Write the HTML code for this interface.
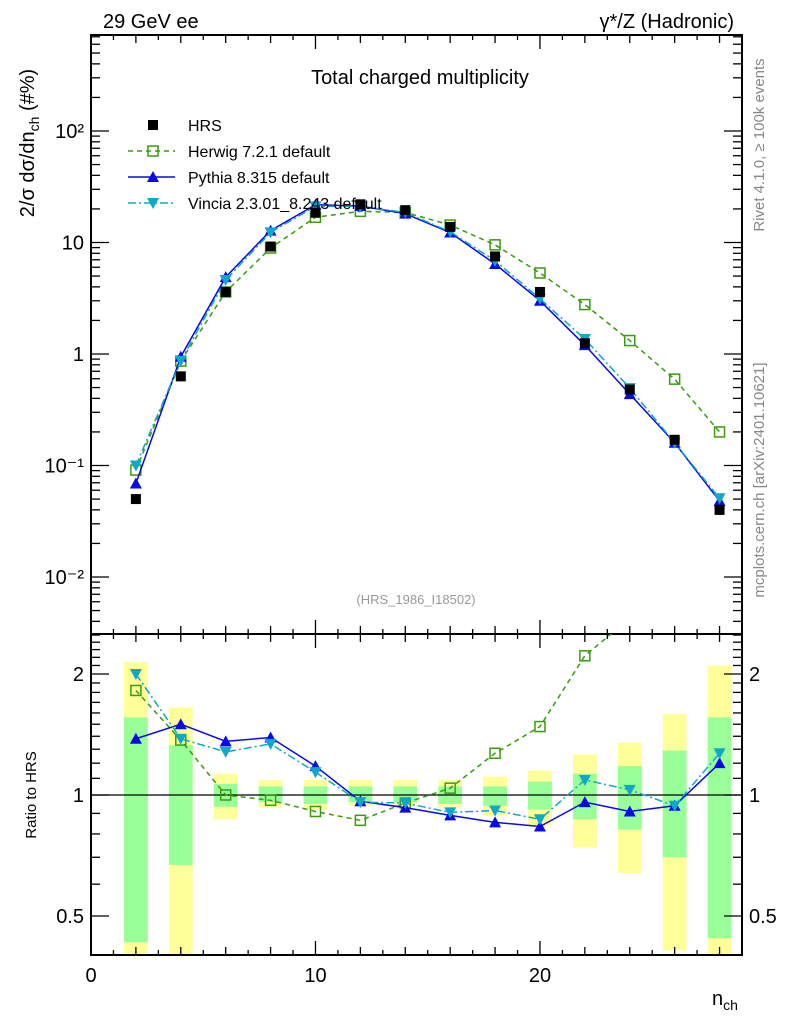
<!DOCTYPE html>
<html><head><meta charset="utf-8">
<style>
html,body{margin:0;padding:0;background:#fff;}
svg{display:block;font-family:"Liberation Sans",sans-serif;}
</style></head>
<body>
<svg id="chart" width="786" height="1024" viewBox="0 0 786 1024" xmlns="http://www.w3.org/2000/svg">
<defs>
<clipPath id="clipMain"><rect x="91" y="35" width="651" height="599"/></clipPath>
<clipPath id="clipRatio"><rect x="91" y="634" width="651" height="321"/></clipPath>
</defs>
<text x="103" y="28" font-size="20">29 GeV ee</text>
<text x="734" y="28" font-size="20" text-anchor="end">γ*/Z (Hadronic)</text>
<text x="420" y="84" font-size="20" text-anchor="middle">Total charged multiplicity</text>
<text x="416" y="604" font-size="13" fill="#999" text-anchor="middle">(HRS_1986_I18502)</text>
<text transform="translate(764,145) rotate(-90)" font-size="15" fill="#888" text-anchor="middle">Rivet 4.1.0, ≥ 100k events</text>
<text transform="translate(764,480) rotate(-90)" font-size="15" fill="#888" text-anchor="middle">mcplots.cern.ch [arXiv:2401.10621]</text>
<text transform="translate(34,143) rotate(-90)" font-size="20" text-anchor="middle">2/σ  dσ/dn<tspan font-size="14" dy="5">ch</tspan><tspan dy="-5"> (#%)</tspan></text>
<text transform="translate(36,795) rotate(-90)" font-size="15" text-anchor="middle">Ratio to HRS</text>
<text x="712" y="1005" font-size="20">n<tspan font-size="14" dy="5">ch</tspan></text>
<g id="bands" clip-path="url(#clipRatio)"></g>
<g id="axes"></g>
<g id="mainSeries" clip-path="url(#clipMain)"></g>
<g id="ratioSeries" clip-path="url(#clipRatio)"></g>
<g id="legend"></g>
</svg>
<script>
const nch = [2,4,6,8,10,12,14,16,18,20,22,24,26,28];
const hrs = [0.05,0.63,3.6,9.2,18.5,22,19.5,13.8,7.5,3.6,1.25,0.48,0.17,0.04];
const herwigRatio = [1.82,1.37,1.0,0.97,0.91,0.865,0.955,1.04,1.27,1.48,2.22,2.75,3.5,5.0];
const pythiaRatio = [1.38,1.5,1.36,1.39,1.18,0.965,0.93,0.89,0.855,0.835,0.96,0.91,0.94,1.2];
const vinciaRatio = [2.0,1.38,1.28,1.34,1.14,0.96,0.955,0.905,0.915,0.87,1.09,1.03,0.94,1.27];
const yellowHi = [2.14,1.65,1.13,1.09,1.09,1.09,1.09,1.09,1.11,1.15,1.26,1.35,1.59,2.1];
const yellowLo = [0.37,0.38,0.87,0.93,0.92,0.94,0.94,0.93,0.89,0.84,0.74,0.64,0.41,0.38];
const greenHi = [1.56,1.33,1.065,1.05,1.05,1.05,1.05,1.05,1.05,1.08,1.13,1.18,1.29,1.56];
const greenLo = [0.43,0.67,0.935,0.96,0.95,0.96,0.96,0.95,0.94,0.92,0.87,0.82,0.70,0.44];
const mainTicks = [0.01,0.1,1,10,100];
const mainTickLabels = ["10⁻²","10⁻¹","1","10","10²"];
const xTicks = [0,10,20];
const ratioTicks = [0.5,1,2];

const NS="http://www.w3.org/2000/svg";
const X0=91,X1=742,XMAX=29;
const sx=v=>X0+v*(X1-X0)/XMAX;
const syMain=v=>354-Math.log10(v)*111.5;
const syRatio=r=>795-Math.log2(r)*121;
function mk(tag,attrs,parent){const e=document.createElementNS(NS,tag);for(const k in attrs)e.setAttribute(k,attrs[k]);parent.appendChild(e);return e;}
const axes=document.getElementById('axes');
const bands=document.getElementById('bands');
nch.forEach((x,i)=>{
  const y=mk('rect',{x:sx(x-0.53),width:sx(x+0.53)-sx(x-0.53),y:syRatio(yellowHi[i]),height:syRatio(yellowLo[i])-syRatio(yellowHi[i]),fill:'#ffff99'},bands);
  
  
  const g=mk('rect',{x:sx(x-0.53),width:sx(x+0.53)-sx(x-0.53),y:syRatio(greenHi[i]),height:syRatio(greenLo[i])-syRatio(greenHi[i]),fill:'#99ff99'},bands);
  
  
});
const f1=mk('rect',{x:X0,y:35,width:X1-X0,height:599,fill:'none',stroke:'#000','stroke-width':2},axes);


const f2=mk('rect',{x:X0,y:634,width:X1-X0,height:321,fill:'none',stroke:'#000','stroke-width':2},axes);


const one=mk('line',{x1:X0,x2:X1,y1:syRatio(1),y2:syRatio(1),stroke:'#000','stroke-width':1.3},axes);


for(let v=0;v<=XMAX;v++){
  const L=v%10===0?14:(v%2===0?8:5);
  [[35,1],[634,-1],[634,1],[955,-1]].forEach(([y,d])=>mk('line',{x1:sx(v),x2:sx(v),y1:y,y2:y+d*L,stroke:'#000','stroke-width':1.3},axes));
}
xTicks.forEach(v=>{const t=mk('text',{x:sx(v),y:982,'font-size':20,'text-anchor':'middle'},axes);t.textContent=v;

});
for(let d=-3;d<=2;d++){for(let m=1;m<10;m++){const v=m*Math.pow(10,d);const y=syMain(v);if(y<35||y>634)continue;const L=m===1?18:9;
mk('line',{x1:X0,x2:X0+L,y1:y,y2:y,stroke:'#000','stroke-width':1.3},axes);mk('line',{x1:X1,x2:X1-L,y1:y,y2:y,stroke:'#000','stroke-width':1.3},axes);}}
mainTicks.forEach((v,i)=>{const t=mk('text',{x:84,y:syMain(v)+7,'font-size':20,'text-anchor':'end'},axes);t.textContent=mainTickLabels[i];

});
for(let r=0.4;r<=2.5001;r+=0.1){const rr=Math.round(r*10)/10;const y=syRatio(rr);const major=[0.5,1,2].includes(rr);const L=major?18:9;
mk('line',{x1:X0,x2:X0+L,y1:y,y2:y,stroke:'#000','stroke-width':1.3},axes);mk('line',{x1:X1,x2:X1-L,y1:y,y2:y,stroke:'#000','stroke-width':1.3},axes);}
ratioTicks.forEach(v=>{const t=mk('text',{x:84,y:syRatio(v)+7,'font-size':20,'text-anchor':'end'},axes);t.textContent=v;


const t2=mk('text',{x:749,y:syRatio(v)+7,'font-size':20},axes);t2.textContent=v;

});

function marker(parent,type,x,y,color,name){
  let e;
  if(type==='sq') e=mk('rect',{x:x-5,y:y-5,width:10,height:10,fill:'#000'},parent);
  else if(type==='osq') e=mk('rect',{x:x-5,y:y-5,width:10,height:10,fill:'none',stroke:color,'stroke-width':1.5},parent);
  else if(type==='up') e=mk('polygon',{points:`${x},${y-6} ${x-6},${y+5} ${x+6},${y+5}`,fill:color},parent);
  else e=mk('polygon',{points:`${x},${y+6} ${x-6},${y-5} ${x+6},${y-5}`,fill:color},parent);
  
  
}
const series=[
 {name:'herwig',ratio:herwigRatio,color:'#3a9a10',dash:'5,4',type:'osq'},
 {name:'pythia',ratio:pythiaRatio,color:'#0a0ae6',dash:'',type:'up'},
 {name:'vincia',ratio:vinciaRatio,color:'#10a8c8',dash:'8,3,2,3',type:'dn'}];
const mainG=document.getElementById('mainSeries');
const ratioG=document.getElementById('ratioSeries');
series.forEach(s=>{
  const pm=nch.map((x,i)=>`${sx(x)},${syMain(hrs[i]*s.ratio[i])}`).join(' ');
  const l=mk('polyline',{points:pm,fill:'none',stroke:s.color,'stroke-width':1.5,'stroke-dasharray':s.dash},mainG);
  
  
  const pr=nch.map((x,i)=>`${sx(x)},${syRatio(s.ratio[i])}`).join(' ');
  const l2=mk('polyline',{points:pr,fill:'none',stroke:s.color,'stroke-width':1.5,'stroke-dasharray':s.dash},ratioG);
  
  
  nch.forEach((x,i)=>{
    marker(mainG,s.type,sx(x),syMain(hrs[i]*s.ratio[i]),s.color,s.name+'-point');
    marker(ratioG,s.type,sx(x),syRatio(s.ratio[i]),s.color,s.name+'-ratio-point');
  });
});
nch.forEach((x,i)=>marker(mainG,'sq',sx(x),syMain(hrs[i]),'#000','hrs-point'));
const lg=document.getElementById('legend');
const leg=[['HRS','sq','#000',''],['Herwig 7.2.1 default','osq','#3a9a10','5,4'],['Pythia 8.315 default','up','#0a0ae6',''],['Vincia 2.3.01_8.243 default','dn','#10a8c8','8,3,2,3']];
leg.forEach((e,i)=>{
  const y=125+i*26;
  if(i>0){const ln=mk('line',{x1:128,x2:175,y1:y,y2:y,stroke:e[2],'stroke-width':1.5,'stroke-dasharray':e[3]},lg);
  
  }
  marker(lg,e[1],153,y,e[2],'legend-marker');
  const t=mk('text',{x:188,y:y+6,'font-size':16},lg);t.textContent=e[0];
  
  
});
</script>
</body></html>
